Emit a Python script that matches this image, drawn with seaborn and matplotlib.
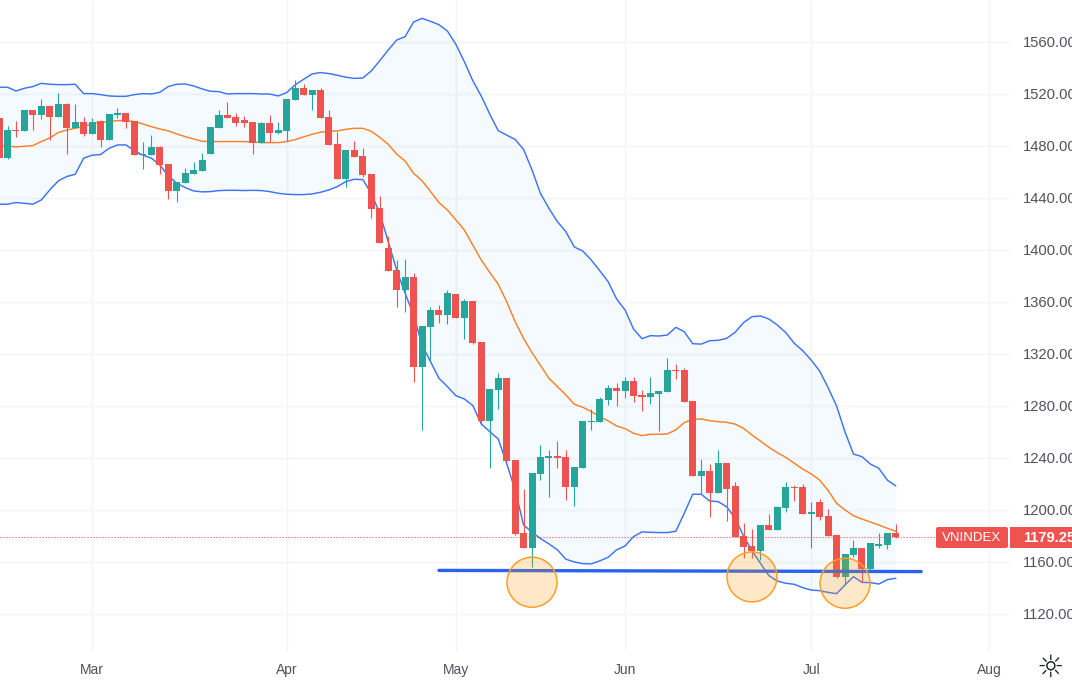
import matplotlib
matplotlib.use("Agg")
import numpy as np
import pandas as pd
import matplotlib.pyplot as plt
import seaborn as sns
from matplotlib.patches import Ellipse, FancyBboxPatch, Rectangle
from matplotlib.transforms import IdentityTransform

# daily candles
opens = [1501.6, 1470.8, 1492.3, 1491.6, 1507.7, 1503.9, 1510.8, 1502.3, 1512.3, 1493.9, 1498.5, 1489.3,
         1499.3, 1484.7, 1503.9, 1505.4, 1499.3, 1473.1, 1473.1, 1479.3, 1466.2, 1445.4, 1451.6, 1458.5,
         1460.8, 1473.9, 1493.9, 1503.9, 1502.3, 1500.0, 1498.5, 1482.3, 1497.7, 1490.0, 1491.6, 1515.4,
         1524.7, 1519.3, 1523.1, 1502.3, 1481.6, 1454.7, 1476.9, 1472.3, 1458.5, 1432.3, 1401.5, 1384.6,
         1369.2, 1379.2, 1310.0, 1340.8, 1353.8, 1350.0, 1366.1, 1347.7, 1360.8, 1329.2, 1268.5, 1292.3,
         1301.6, 1238.5, 1182.3, 1170.8, 1227.7, 1240.0, 1241.6, 1240.8, 1217.7, 1232.3, 1267.7, 1267.7,
         1284.6, 1293.9, 1291.6, 1299.3, 1288.5, 1286.9, 1289.3, 1290.8, 1307.7, 1307.7, 1283.9, 1226.2,
         1230.0, 1213.0, 1236.1, 1218.4, 1180.0, 1172.3, 1168.4, 1188.4, 1184.6, 1201.5, 1217.7, 1217.7,
         1196.9, 1206.1, 1195.3, 1180.7, 1148.4, 1165.3, 1170.7, 1154.6, 1172.3, 1173.0, 1182.3]
highs = [1503.0, 1495.4, 1499.3, 1507.7, 1507.7, 1516.2, 1510.8, 1520.8, 1513.1, 1512.3, 1502.3, 1501.6,
         1500.0, 1504.7, 1509.3, 1505.4, 1499.3, 1483.1, 1488.5, 1480.0, 1466.2, 1452.3, 1463.1, 1467.7,
         1474.7, 1494.7, 1507.7, 1513.9, 1505.4, 1503.1, 1498.5, 1498.5, 1503.9, 1498.5, 1516.2, 1530.8,
         1527.7, 1523.1, 1524.7, 1507.7, 1490.8, 1477.0, 1483.8, 1478.5, 1458.5, 1441.5, 1410.8, 1392.3,
         1393.1, 1382.3, 1341.5, 1356.1, 1357.7, 1369.2, 1366.1, 1362.3, 1360.8, 1329.2, 1293.1, 1305.4,
         1301.6, 1238.5, 1216.2, 1228.5, 1250.0, 1246.2, 1253.1, 1246.2, 1233.1, 1268.5, 1277.7, 1286.9,
         1296.2, 1297.7, 1302.3, 1302.3, 1292.3, 1302.3, 1291.6, 1316.9, 1312.3, 1309.3, 1283.9, 1239.3,
         1235.3, 1246.1, 1236.1, 1221.5, 1190.0, 1185.3, 1188.4, 1196.9, 1203.0, 1221.5, 1219.2, 1220.0,
         1206.0, 1208.4, 1200.7, 1180.7, 1166.1, 1176.9, 1170.7, 1174.6, 1182.3, 1182.3, 1189.2]
lows = [1470.8, 1470.0, 1487.0, 1491.6, 1492.3, 1500.8, 1484.7, 1502.3, 1473.9, 1493.9, 1487.7, 1489.3,
        1479.3, 1484.7, 1501.6, 1493.9, 1473.1, 1462.3, 1473.1, 1458.5, 1439.3, 1437.0, 1451.6, 1458.5,
        1460.8, 1473.9, 1493.9, 1501.6, 1495.4, 1494.6, 1473.9, 1482.3, 1483.1, 1489.3, 1483.9, 1515.4,
        1519.3, 1507.7, 1501.6, 1480.8, 1454.7, 1448.5, 1471.5, 1456.1, 1424.6, 1405.4, 1383.8, 1356.1,
        1352.3, 1298.5, 1261.5, 1314.6, 1343.8, 1343.1, 1347.7, 1331.5, 1327.7, 1265.4, 1232.3, 1277.7,
        1237.7, 1180.8, 1170.8, 1156.2, 1223.1, 1210.0, 1232.3, 1207.7, 1203.1, 1232.3, 1261.6, 1267.7,
        1280.8, 1280.0, 1286.2, 1283.1, 1276.2, 1281.6, 1260.8, 1290.8, 1300.8, 1283.1, 1226.2, 1212.3,
        1194.6, 1213.0, 1191.5, 1179.2, 1163.0, 1163.0, 1161.5, 1184.6, 1184.6, 1198.4, 1206.9, 1196.9,
        1170.7, 1192.3, 1180.0, 1147.7, 1142.3, 1163.8, 1144.6, 1153.0, 1170.7, 1170.0, 1178.4]
closes = [1470.8, 1492.3, 1491.6, 1507.7, 1503.9, 1510.8, 1502.3, 1512.3, 1493.9, 1498.5, 1489.3, 1498.5,
          1484.7, 1504.7, 1505.4, 1498.5, 1473.1, 1473.9, 1479.3, 1465.4, 1445.4, 1452.3, 1459.3, 1461.6,
          1469.3, 1494.7, 1503.9, 1501.6, 1497.7, 1497.7, 1482.3, 1497.7, 1490.0, 1492.3, 1516.2, 1524.7,
          1519.3, 1523.1, 1501.6, 1480.8, 1454.7, 1477.0, 1471.5, 1457.7, 1431.5, 1405.4, 1383.8, 1369.2,
          1379.2, 1310.0, 1341.5, 1353.8, 1350.0, 1366.9, 1347.7, 1360.8, 1328.5, 1268.5, 1293.1, 1301.5,
          1237.7, 1181.6, 1170.8, 1228.5, 1240.8, 1241.6, 1240.0, 1217.7, 1233.1, 1268.5, 1268.5, 1285.4,
          1293.9, 1291.6, 1299.3, 1287.7, 1286.9, 1290.0, 1291.6, 1307.7, 1306.9, 1283.1, 1226.2, 1230.0,
          1213.0, 1236.1, 1216.1, 1179.2, 1171.5, 1168.4, 1188.4, 1184.6, 1202.3, 1217.7, 1216.9, 1196.9,
          1198.4, 1194.6, 1180.0, 1148.4, 1166.1, 1170.7, 1154.6, 1174.6, 1173.8, 1182.3, 1179.25]

# bollinger bands
upper = [1525.2, 1525.2, 1522.3, 1524.4, 1525.7, 1528.2, 1527.5, 1527.2, 1527.2, 1527.5, 1520.3, 1520.3,
         1519.5, 1518.5, 1518.2, 1518.2, 1519.5, 1520.3, 1520.0, 1521.3, 1525.7, 1527.5, 1527.7, 1526.2,
         1523.9, 1522.1, 1521.8, 1520.0, 1520.3, 1520.3, 1520.3, 1520.0, 1520.0, 1518.5, 1521.1, 1527.0,
         1531.3, 1535.4, 1536.5, 1535.7, 1534.4, 1532.9, 1532.0, 1532.3, 1537.7, 1545.6, 1553.8, 1561.5,
         1564.1, 1575.4, 1578.2, 1575.9, 1573.3, 1568.4, 1558.2, 1544.9, 1530.2, 1518.4, 1504.6, 1491.8,
         1488.4, 1485.1, 1477.4, 1461.6, 1443.5, 1432.0, 1421.8, 1414.1, 1402.3, 1399.2, 1392.3, 1384.1,
         1375.6, 1362.3, 1353.8, 1339.2, 1331.8, 1334.1, 1333.8, 1334.6, 1340.5, 1337.1, 1327.9, 1327.6,
         1330.2, 1330.5, 1332.0, 1336.6, 1344.1, 1348.7, 1349.2, 1346.9, 1342.3, 1336.4, 1328.2, 1322.5,
         1315.3, 1306.9, 1294.1, 1280.0, 1260.0, 1243.0, 1241.0, 1235.3, 1232.0, 1223.0, 1218.5]
middle = [1480.0, 1480.0, 1479.3, 1479.8, 1480.3, 1483.4, 1486.2, 1490.3, 1492.3, 1493.6, 1494.9, 1497.0,
          1498.2, 1498.8, 1499.5, 1499.5, 1498.8, 1497.0, 1494.9, 1493.1, 1491.6, 1489.3, 1487.2, 1485.4,
          1483.6, 1483.4, 1483.4, 1483.4, 1483.4, 1483.4, 1483.1, 1482.6, 1482.6, 1482.6, 1483.4, 1484.9,
          1487.0, 1489.0, 1490.6, 1491.3, 1491.6, 1492.8, 1493.6, 1493.6, 1491.3, 1486.7, 1481.3, 1473.8,
          1468.4, 1459.0, 1453.3, 1445.0, 1436.4, 1430.8, 1423.1, 1415.4, 1403.8, 1392.3, 1382.8, 1373.8,
          1360.3, 1344.9, 1332.0, 1321.0, 1311.2, 1301.3, 1294.9, 1288.5, 1281.3, 1279.0, 1275.7, 1271.8,
          1268.5, 1264.6, 1262.6, 1259.0, 1257.2, 1258.2, 1258.2, 1258.5, 1261.6, 1267.2, 1269.8, 1270.0,
          1268.7, 1267.9, 1267.4, 1266.1, 1262.8, 1257.7, 1253.0, 1248.2, 1244.1, 1240.5, 1235.9, 1231.5,
          1227.7, 1223.0, 1215.0, 1205.1, 1200.0, 1195.6, 1193.0, 1190.7, 1188.4, 1185.9, 1183.6]
lower = [1435.2, 1435.2, 1436.5, 1435.9, 1435.2, 1438.5, 1446.2, 1453.1, 1456.5, 1458.2, 1470.6, 1472.9,
         1473.4, 1478.2, 1480.8, 1480.8, 1476.4, 1472.9, 1470.6, 1465.4, 1457.2, 1451.3, 1448.0, 1445.4,
         1444.7, 1444.9, 1445.7, 1445.9, 1445.9, 1445.7, 1445.9, 1445.7, 1444.9, 1443.6, 1442.9, 1442.6,
         1442.6, 1443.1, 1444.4, 1446.2, 1448.8, 1452.6, 1454.4, 1454.1, 1443.6, 1428.2, 1406.4, 1384.6,
         1366.7, 1350.0, 1326.9, 1314.1, 1301.3, 1294.9, 1287.9, 1285.4, 1280.3, 1266.2, 1260.3, 1254.6,
         1235.9, 1215.4, 1188.5, 1182.8, 1178.0, 1173.9, 1169.3, 1162.1, 1160.0, 1158.7, 1158.5, 1160.8,
         1163.6, 1169.3, 1172.3, 1179.5, 1183.1, 1182.8, 1182.6, 1182.6, 1183.6, 1197.5, 1212.1, 1212.1,
         1206.9, 1206.4, 1202.5, 1193.6, 1180.0, 1168.7, 1158.9, 1149.5, 1145.3, 1143.6, 1142.8, 1140.2,
         1138.4, 1137.9, 1136.6, 1135.6, 1142.3, 1148.7, 1144.3, 1144.1, 1143.0, 1146.4, 1147.4]

month_labels = ["Mar", "Apr", "May", "Jun", "Jul", "Aug"]
month_pos = [11, 34, 54, 74, 96, 117]
price_ticks = [1120, 1160, 1200, 1240, 1280, 1320, 1360, 1400, 1440, 1480, 1520, 1560]

# hand drawn annotations
support_x = [52, 109]
support_y = [1153.5, 1152.6]
circle_x = [63, 89, 100]
circle_y = [1144.4, 1148.5, 1143.6]

RED = "#ef5350"
GREEN = "#26a69a"
BLUE = "#3d74f5"
ORANGE = "#f98128"
TEXT = "#50535e"
W, H = 1072, 686
PLOT_W, PLOT_H = 1010, 651

sns.set_theme(style="white", rc={"axes.spines.left": False, "axes.spines.bottom": False,
                                 "axes.spines.top": False, "axes.spines.right": False})
plt.rcParams["font.family"] = ["Liberation Sans", "DejaVu Sans"]

df = pd.DataFrame({"day": np.arange(len(closes)), "open": opens, "high": highs, "low": lows,
                   "close": closes, "upper": upper, "middle": middle, "lower": lower})
up = df["close"] >= df["open"]
df["color"] = np.where(up, GREEN, RED)

fig = plt.figure(figsize=(W / 100, H / 100), dpi=100, facecolor="white")
ax = fig.add_axes([0, 1 - PLOT_H / H, PLOT_W / W, PLOT_H / H])
ax.set_xlim(0.113, 119.5)
ax.set_ylim(1091.5, 1592.3)

ax.grid(True, color="#f3f4f7", linewidth=1)
ax.set_axisbelow(True)

# bands
ax.fill_between(df["day"], df["lower"], df["upper"], color="#2196f3", alpha=0.045, linewidth=0, zorder=1)
sns.lineplot(data=df, x="day", y="upper", color=BLUE, linewidth=1.05, errorbar=None, ax=ax, zorder=2)
sns.lineplot(data=df, x="day", y="lower", color=BLUE, linewidth=1.05, errorbar=None, ax=ax, zorder=2)
sns.lineplot(data=df, x="day", y="middle", color=ORANGE, linewidth=1.05, errorbar=None, ax=ax, zorder=2)

# candles
ax.vlines(df["day"], df["low"], df["high"], colors=df["color"], linewidth=0.8, zorder=3)
body = (df["close"] - df["open"]).abs().clip(lower=0.8)
ax.bar(df["day"], body, bottom=df[["open", "close"]].min(axis=1), width=0.83, color=df["color"],
       linewidth=0, zorder=4)

# last price line
ax.axhline(closes[-1], xmin=0, xmax=934 / PLOT_W, color=RED, linewidth=0.8, linestyle=(0, (1, 1.7)), zorder=5)

# support line and circles
sns.lineplot(x=support_x, y=support_y, color="#2a62f0", linewidth=2.4, errorbar=None, ax=ax, zorder=6)
for cx, cy in zip(circle_x, circle_y):
    ax.add_patch(Ellipse((cx, cy), width=50 / 8.46, height=50 / 1.3, facecolor="#ff9800", alpha=0.22,
                         edgecolor="none", zorder=7))
    ax.add_patch(Ellipse((cx, cy), width=50 / 8.46, height=50 / 1.3, facecolor="none",
                         edgecolor="#fb9f26", linewidth=1.1, zorder=8))

ax.set_xlabel("")
ax.set_ylabel("")
ax.set_xticks(month_pos)
ax.set_xticklabels(month_labels, fontsize=10, color=TEXT)
ax.set_yticks(price_ticks)
ax.set_yticklabels([f"{p:.2f}" for p in price_ticks], fontsize=10.6, color=TEXT, ha="left")
ax.yaxis.tick_right()
ax.tick_params(axis="y", length=0, pad=9.5)
ax.tick_params(axis="x", length=0, pad=8.5)

# price tags on the right
tr = IdentityTransform()
tag_bottom = H - 548
fig.add_artist(FancyBboxPatch((938, tag_bottom + 2), 68, 17, boxstyle="round,pad=2,rounding_size=2",
                              facecolor=RED, edgecolor="none", transform=tr))
fig.add_artist(Rectangle((1010, tag_bottom), 62, 21, facecolor=RED, edgecolor="none", transform=tr))
fig.text(972 / W, 1 - 538 / H, "VNINDEX", color="white", fontsize=9.5, ha="center", va="center")
fig.text(1023 / W, 1 - 538 / H, f"{closes[-1]:.2f}", color="white", fontsize=10.6, ha="left", va="center",
         fontweight="bold")

# settings icon
fig.text(1050 / W, 1 - 668 / H, "\u263c", color="#1e222d", fontsize=22, ha="center", va="center",
         family="DejaVu Sans")

fig.savefig("out.png", dpi=100, facecolor="white")
